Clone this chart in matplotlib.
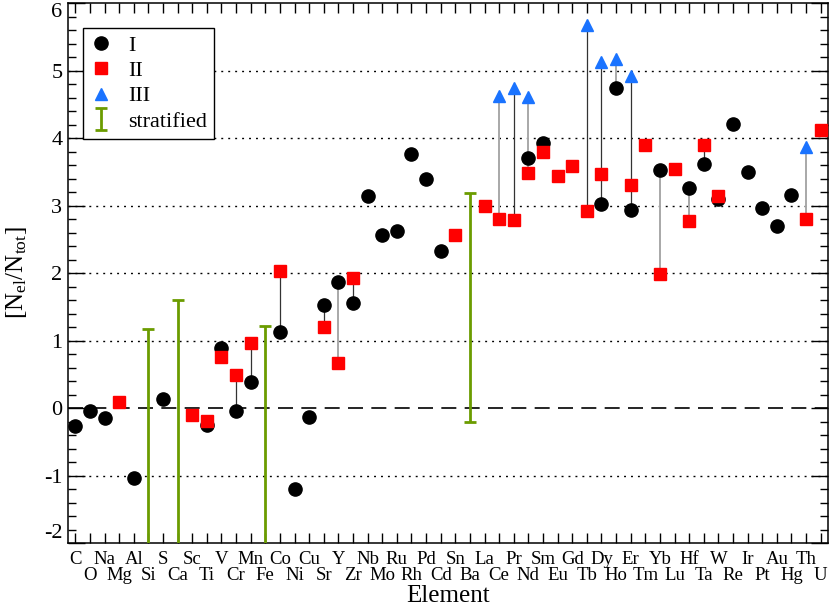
import numpy as np
import matplotlib
matplotlib.use("Agg")
import matplotlib.pyplot as plt
from matplotlib.ticker import MultipleLocator, FixedLocator

plt.rcParams['font.family'] = ['Liberation Serif', 'DejaVu Serif']
plt.rcParams['mathtext.fontset'] = 'custom'
plt.rcParams['mathtext.rm'] = 'Liberation Serif'
plt.rcParams['mathtext.it'] = 'Liberation Serif:italic'
plt.rcParams['axes.unicode_minus'] = False

nan = np.nan
elements = ['C', 'O', 'Na', 'Mg', 'Al', 'Si', 'S', 'Ca', 'Sc', 'Ti', 'V', 'Cr', 'Mn',
            'Fe', 'Co', 'Ni', 'Cu', 'Sr', 'Y', 'Zr', 'Nb', 'Mo', 'Ru', 'Rh', 'Pd', 'Cd',
            'Sn', 'Ba', 'La', 'Ce', 'Pr', 'Nd', 'Sm', 'Eu', 'Gd', 'Tb', 'Dy', 'Ho', 'Er',
            'Tm', 'Yb', 'Lu', 'Hf', 'Ta', 'W', 'Re', 'Ir', 'Pt', 'Au', 'Hg', 'Th', 'U']

# abundances per ionisation stage (nan = not measured)
ion1 = [-0.26, -0.04, -0.15, nan, -1.03, nan, 0.14, nan, nan, -0.25, 0.89, -0.05, 0.39,
        nan, 1.12, -1.20, -0.14, 1.52, 1.86, 1.55, 3.14, 2.56, 2.63, 3.76, 3.39, 2.33,
        nan, nan, nan, nan, nan, 3.71, 3.92, nan, nan, nan, 3.02, 4.74, 2.94,
        nan, 3.52, nan, 3.26, 3.62, 3.10, 4.21, 3.49, 2.97, 2.70, 3.15, nan, nan]
ion2 = [nan, nan, nan, 0.09, nan, nan, nan, nan, -0.10, -0.19, 0.76, 0.49, 0.97,
        nan, 2.03, nan, nan, 1.20, 0.66, 1.92, nan, nan, nan, nan, nan, nan,
        2.56, nan, 3.00, 2.80, 2.78, 3.48, 3.79, 3.44, 3.58, 2.92, 3.46, nan, 3.30,
        3.89, 1.99, 3.54, 2.77, 3.89, 3.14, nan, nan, nan, nan, nan, 2.80, 4.12]
ion3 = [nan] * 29 + [4.63, 4.74, 4.61, nan, nan, nan, 5.68, 5.12, 5.17, 4.92] + \
       [nan] * 11 + [3.86, nan]

# stratified elements: lower and upper limits
strat_el = ['Si', 'Ca', 'Fe', 'Ba']
strat_lo = [-3.0, -3.0, -3.0, -0.20]
strat_hi = [1.17, 1.60, 1.22, 3.19]

gray_links = ['Y', 'Ce', 'Nd', 'Ho', 'Yb', 'Hf', 'Th']

x = np.arange(1, len(elements) + 1)
ion1 = np.array(ion1)
ion2 = np.array(ion2)
ion3 = np.array(ion3)

fig = plt.figure(figsize=(8.3, 6.07), dpi=100)
ax = fig.add_axes([0.0819, 0.1054, 0.9157, 0.8896])

# horizontal reference lines
for yv in [-1, 1, 2, 3, 4, 5]:
    ax.axhline(yv, color='black', lw=1.0, ls=(0, (1.4, 3.6)), zorder=1)
ax.axhline(0, color='black', lw=1.2, ls=(0, (9, 5)), zorder=1)

# links between ionisation stages of one element
allv = np.vstack([ion1, ion2, ion3])
for i, el in enumerate(elements):
    vals = allv[:, i][~np.isnan(allv[:, i])]
    if len(vals) > 1:
        if el in gray_links:
            ax.plot([x[i], x[i]], [vals.min(), vals.max()], color='#a8a8a8', lw=1.4, zorder=2)
        else:
            ax.plot([x[i], x[i]], [vals.min(), vals.max()], color='#333333', lw=0.9, zorder=2)

ax.plot(x, ion1, 'o', color='black', ms=9.5, ls='none', label='I', zorder=3)
ax.plot(x, ion2, 's', color='#ff0000', ms=8.5, ls='none', label='II', zorder=4)
ax.plot(x, ion3, '^', color='#1a73ff', ms=9, ls='none', label='III', zorder=5)

sx = [x[elements.index(e)] for e in strat_el]
mid = (np.array(strat_lo) + np.array(strat_hi)) / 2
half = (np.array(strat_hi) - np.array(strat_lo)) / 2
ax.errorbar(sx, mid, yerr=half, fmt='none', ecolor='#6b9c00', elinewidth=2.0,
            capsize=4, capthick=2.0, label='stratified', zorder=3)

ax.set_xlim(0.5, len(elements) + 0.5)
ax.set_ylim(-2, 6)

# two rows of element labels
ax.xaxis.set_major_locator(FixedLocator(x[0::2]))
ax.xaxis.set_minor_locator(FixedLocator(x[1::2]))
ax.set_xticklabels(elements[0::2])
ax.set_xticklabels(elements[1::2], minor=True)
ax.tick_params(axis='x', which='both', direction='in', length=7, width=1,
               top=True, labelsize=13.5)
ax.tick_params(axis='x', which='major', pad=6)
ax.tick_params(axis='x', which='minor', pad=17)

ax.yaxis.set_major_locator(FixedLocator(np.arange(-2, 7)))
ax.yaxis.set_minor_locator(MultipleLocator(0.2))
ax.tick_params(axis='y', which='both', direction='in', right=True, width=1, labelsize=16)
ax.tick_params(axis='y', which='major', length=12, pad=4)
ax.tick_params(axis='y', which='minor', length=5.5)

# keep the end labels inside the figure
ylabels = ax.yaxis.get_major_ticks()
ylabels[-1].label1.set_va('top')
ylabels[0].label1.set_va('bottom')

for s in ax.spines.values():
    s.set_linewidth(1.1)

ax.set_xlabel('Element', fontsize=18)
ax.xaxis.set_label_coords(0.5, -0.077)
ax.set_ylabel(r'[N$_{\rm el}$/N$_{\rm tot}$]', fontsize=18, labelpad=11)

leg = ax.legend(loc='upper left', bbox_to_anchor=(0.0197, 0.954), borderaxespad=0,
                fontsize=16, fancybox=False, frameon=True, framealpha=1,
                edgecolor='black', handlelength=1.0, handletextpad=0.7,
                labelspacing=0.22, borderpad=0.32, numpoints=1)
leg.get_frame().set_linewidth(1.0)
leg.set_zorder(10)

fig.savefig('out.png', dpi=100)
